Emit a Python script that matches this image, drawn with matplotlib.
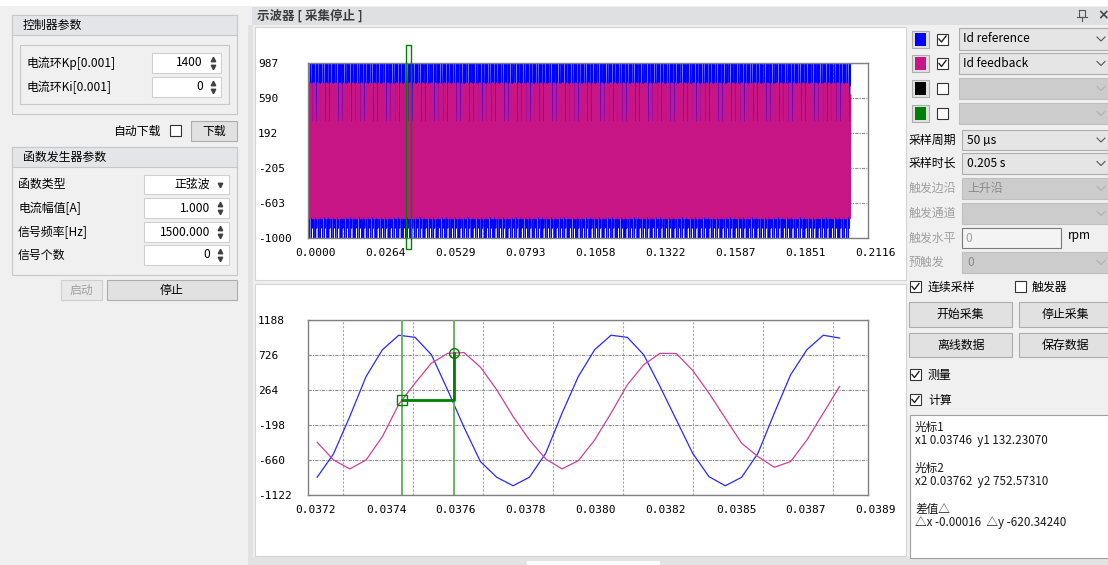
import numpy as np
import matplotlib
matplotlib.use("Agg")
import matplotlib.pyplot as plt
from matplotlib.patches import Rectangle
from matplotlib.transforms import ScaledTranslation

plt.rcParams['font.family'] = ['Noto Sans CJK SC', 'DejaVu Sans']

W, H = 1108, 565

# ---- data ----
TS = 0.00005           # 采样周期 50 us
T0 = 0.0372            # first sample shown in the zoom view
blue_ref = [-888, -580, -86, 443, 796, 987, 959, 730, 260, -230, -681, -888, -1000,
            -888, -571, -42, 443, 796, 987, 959, 730, 311, -130, -571, -880, -1000,
            -888, -571, -42, 465, 796, 987, 950]
mag_fb = [-425, -659, -778, -659, -350, 75, 355, 619, 748, 758, 566, 267, -86,
          -395, -646, -778, -668, -395, -42, 333, 597, 748, 745, 522, 223, -108,
          -439, -615, -756, -681, -395, -42, 311]
top_samples = 4100     # 0.205 s of samples
top_xlim = (0.0, 0.21158)
top_ylim = (-1000, 987)
zoom_xlim = (0.037172, 0.038887)
zoom_ylim = (-1122, 1188)
cursor_x = [0.03746, 0.03762]
cursor_y = [132.23070, 752.57310]

fig = plt.figure(figsize=(W / 100, H / 100), dpi=100, facecolor='#f0f0f0')
bg = fig.add_axes([0, 0, 1, 1])
bg.set_xlim(0, W)
bg.set_ylim(H, 0)
bg.axis('off')


def box(x0, y0, x1, y1, fc, ec='none', lw=0.8, z=1):
    bg.add_patch(Rectangle((x0, y0), x1 - x0, y1 - y0, facecolor=fc,
                           edgecolor=ec, linewidth=lw, zorder=z))


def label(x, y, s, size=8.6, color='#000000', ha='left', **kw):
    bg.text(x, y, s, fontsize=size, color=color, ha=ha, va='center', zorder=5, **kw)


def spin_arrows(x, yc):
    bg.plot([x], [yc - 4], marker='^', ms=3.2, color='#404040', zorder=6)
    bg.plot([x], [yc + 4], marker='v', ms=3.2, color='#404040', zorder=6)


def chevron(x, yc, color='#555555'):
    bg.plot([x - 4, x, x + 4], [yc - 2, yc + 2, yc - 2], color=color, lw=0.8, zorder=6)


def checkbox(x0, y0, checked):
    box(x0, y0, x0 + 11, y0 + 11, 'white', '#333333', z=3)
    if checked:
        bg.plot([x0 + 2, x0 + 4.5, x0 + 9], [y0 + 5.5, y0 + 8.5, y0 + 2.5],
                color='#222222', lw=1.0, zorder=6)


def button(x0, y0, x1, y1, s, enabled=True):
    if enabled:
        box(x0, y0, x1, y1, '#e1e1e1', '#adadad', z=3)
        label((x0 + x1) / 2, (y0 + y1) / 2, s, ha='center')
    else:
        box(x0, y0, x1, y1, '#e9e9e9', '#cfcfcf', z=3)
        label((x0 + x1) / 2, (y0 + y1) / 2, s, ha='center', color='#a0a0a0')


# ---- window frame ----
box(0, 0, W, 6, 'white')

# left panel: 控制器参数
box(12, 15, 237, 114, '#f0f0f0', '#c8c8c8')
box(12, 15, 237, 35, '#e4e5e9', '#c8c8c8')
label(23, 25.5, '控制器参数')
box(20, 45, 229, 104, '#f0f0f0', '#c8c8c8')
label(27, 63, '电流环Kp[0.001]')
box(152, 53, 221, 73, 'white', '#d0d0d0', z=3)
label(203, 63, '1400', ha='right')
spin_arrows(213, 63)
label(27, 87, '电流环Ki[0.001]')
box(152, 77, 221, 97, 'white', '#d0d0d0', z=3)
label(203, 87, '0', ha='right')
spin_arrows(213, 87)

label(113, 131, '自动下载')
checkbox(170, 125, False)
button(191, 121, 237, 141, '下载')

# left panel: 函数发生器参数
box(12, 147, 237, 275, '#f0f0f0', '#c8c8c8')
box(12, 147, 237, 167, '#e4e5e9', '#c8c8c8')
label(23, 157, '函数发生器参数')
gen_rows = [('函数类型', '正弦波', 175, 194), ('电流幅值[A]', '1.000', 198, 218),
            ('信号频率[Hz]', '1500.000', 222, 242), ('信号个数', '0', 245, 265)]
for i, (name, val, y0, y1) in enumerate(gen_rows):
    yc = (y0 + y1) / 2
    label(18, yc, name)
    box(144, y0, 229, y1, 'white', '#d0d0d0', z=3)
    label(210, yc, val, ha='right')
    if i == 0:
        bg.plot([219.5], [yc], marker='v', ms=3.2, color='#404040', zorder=6)
    else:
        spin_arrows(220, yc)
button(61, 280, 102, 300, '启动', enabled=False)
button(107, 280, 237, 300, '停止')

# splitter + oscilloscope title bar
box(248, 25, 253, H, '#e2e2e2')
box(252, 7, W, 25, '#dfe0e4')
label(257, 16, '示波器 [ 采集停止 ]', size=9, color='#3c3c3c', fontweight='bold')
bg.plot([1079, 1085, 1085, 1079, 1079], [10, 10, 17, 17, 10], color='#555555', lw=0.8)
bg.plot([1077, 1087], [17, 17], color='#555555', lw=0.8)
bg.plot([1082, 1082], [17, 21], color='#555555', lw=0.8)
label(1103, 15.5, '×', size=10, color='#444444', ha='center', fontweight='bold',
      family='DejaVu Sans')

# white plot panels
box(255, 27, 906, 280, 'white', '#d4d4d4')
box(255, 284, 906, 556, 'white', '#d4d4d4')
box(252, 557, W, H, '#e3e3e3')
box(527, 561, 660, H, 'white')

# right panel: channel rows
channels = [('#0000ff', True, 'Id reference', 28, 50), ('#c71585', True, 'Id feedback', 53, 74),
            ('#000000', False, '', 78, 99), ('#008000', False, '', 103, 124)]
for color, on, name, y0, y1 in channels:
    yc = (y0 + y1) / 2
    box(912, yc - 8.5, 929, yc + 8.5, '#e1e1e1', '#adadad', z=3)
    box(915, yc - 6.5, 926, yc + 6.5, color, z=4)
    checkbox(937, yc - 5.5, on)
    if name:
        box(959, y0, 1112, y1, '#e5e5e5', '#adadad', z=3)
        label(963, yc, name)
        chevron(1101, yc)
    else:
        box(959, y0, 1112, y1, '#cccccc', '#bfbfbf', z=3)
        chevron(1101, yc, '#b0b0b0')

settings = [('采样周期', '50 µs', True, 130, 150), ('采样时长', '0.205 s', True, 153, 174),
            ('触发边沿', '上升沿', False, 178, 199), ('触发通道', '', False, 203, 224)]
for name, val, on, y0, y1 in settings:
    yc = (y0 + y1) / 2
    label(909, yc, name, color='#000000' if on else '#a0a0a0')
    box(962, y0, 1112, y1, '#e5e5e5' if on else '#cccccc', '#adadad' if on else '#bfbfbf', z=3)
    label(967, yc, val, color='#000000' if on else '#8a8a8a')
    chevron(1101, yc, '#555555' if on else '#b0b0b0')
label(909, 238, '触发水平', color='#a0a0a0')
box(962, 228, 1061, 248, '#f4f4f4', '#7a7a7a', z=3)
label(965, 238, '0', color='#a0a0a0')
label(1068, 236, 'rpm')
label(909, 262, '预触发', color='#a0a0a0')
box(962, 252, 1112, 273, '#cccccc', '#bfbfbf', z=3)
label(967, 262.5, '0', color='#8a8a8a')
chevron(1101, 262.5, '#b0b0b0')

checkbox(910, 281, True)
label(928, 287, '连续采样')
checkbox(1015, 281, False)
label(1032, 287, '触发器')
button(909, 302, 1012, 327, '开始采集')
button(1019, 302, 1112, 327, '停止采集')
button(909, 333, 1012, 357, '离线数据')
button(1019, 333, 1112, 357, '保存数据')
checkbox(910, 369, True)
label(928, 375, '测量')
checkbox(910, 394, True)
label(928, 400, '计算')

box(910, 415, 1112, 558, 'white', '#a0a0a0', z=3)
readout = ['光标1',
           f'x1 {cursor_x[0]:.5f}  y1 {cursor_y[0]:.5f}',
           '',
           '光标2',
           f'x2 {cursor_x[1]:.5f}  y2 {cursor_y[1]:.5f}',
           '',
           '差值△',
           f'△x {cursor_x[0] - cursor_x[1]:.5f}  △y {cursor_y[0] - cursor_y[1]:.5f}']
for i, line in enumerate(readout):
    if line:
        label(915, 427 + i * 13.7, line, size=8.4, color='#1a1a1a')


# ---- the two scope plots ----
def scope_axes(rect, xlim, ylim):
    ax = fig.add_axes(rect, facecolor='white')
    ax.set_xlim(*xlim)
    ax.set_ylim(*ylim)
    xt = np.linspace(xlim[0], xlim[1], 9)
    yt = np.linspace(ylim[0], ylim[1], 6)
    ax.set_xticks(xt, labels=[f'{v:.4f}' for v in xt])
    ax.set_yticks(yt, labels=[f'{v:.0f}' for v in yt], ha='left')
    ax.set_xticks(np.linspace(xlim[0], xlim[1], 17), minor=True)
    ax.tick_params(which='both', length=0, labelsize=8, labelfontfamily='DejaVu Sans Mono')
    ax.tick_params(axis='y', pad=36)
    ax.tick_params(axis='x', pad=7)
    shift = ScaledTranslation(0.08, 0, fig.dpi_scale_trans)
    for lab in ax.get_xticklabels():
        lab.set_transform(lab.get_transform() + shift)
    ax.grid(which='minor', axis='x', color='#a8a8a8', ls=(0, (2, 1.5)), lw=0.8)
    ax.grid(which='major', axis='y', color='#909090', ls=(0, (3, 1, 1, 1)), lw=0.8)
    for s in ax.spines.values():
        s.set_color('#808080')
        s.set_linewidth(1.0)
    return ax


ax1 = scope_axes([308 / W, 1 - 238 / H, 560 / W, 175 / H], top_xlim, top_ylim)
t_top = np.arange(top_samples) * TS
ax1.plot(t_top, np.resize(blue_ref, top_samples), color='#0000ff', lw=0.7)
ax1.plot(t_top, np.resize(mag_fb, top_samples), color='#c71585', lw=1.3)
ax1.add_patch(Rectangle((zoom_xlim[0], zoom_ylim[0]), zoom_xlim[1] - zoom_xlim[0],
                        zoom_ylim[1] - zoom_ylim[0], fill=False, edgecolor='#008000',
                        lw=1.0, clip_on=False, zorder=5))

ax2 = scope_axes([308 / W, 1 - 495 / H, 560 / W, 175 / H], zoom_xlim, zoom_ylim)
t_zoom = T0 + np.arange(len(blue_ref)) * TS
ax2.plot(t_zoom, blue_ref, color='#2a2aff', lw=0.9)
ax2.plot(t_zoom, mag_fb, color='#d0409a', lw=0.9)
for cx in cursor_x:
    ax2.axvline(cx, color='#66b566', lw=1.4, zorder=4)
ax2.plot([cursor_x[0], cursor_x[1], cursor_x[1]], [cursor_y[0], cursor_y[0], cursor_y[1]],
         color='#008000', lw=2.0, zorder=5)
ax2.plot([cursor_x[0]], [cursor_y[0]], marker='s', ms=7, mfc='none', mec='#008000', mew=1, zorder=6)
ax2.plot([cursor_x[1]], [cursor_y[1]], marker='o', ms=7, mfc='none', mec='#008000', mew=1, zorder=6)

fig.savefig('out.png', dpi=100, facecolor=fig.get_facecolor())
